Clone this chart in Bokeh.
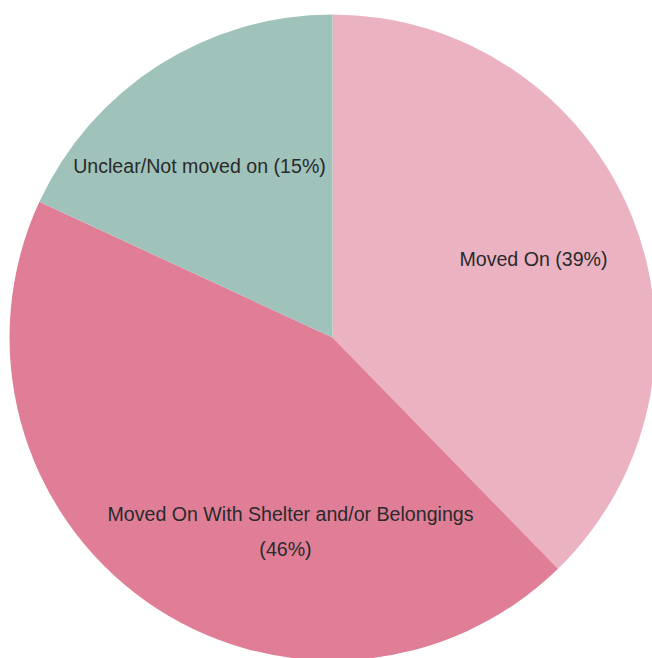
import math
from bokeh.plotting import figure
from bokeh.models import Range1d, Label, ColumnDataSource
from bokeh.embed import file_html
from bokeh.resources import INLINE

# data
categories = ["Moved On", "Moved On With Shelter and/or Belongings", "Unclear/Not moved on"]
shares = [37.7, 44.2, 18.1]
label_pct = ["39%", "46%", "15%"]
colors = ["#ebb2c2", "#e07e98", "#9fc2ba"]

W, H = 652, 658
cx, cy, r = 332, H - 337, 323

total = sum(shares)
starts, ends = [], []
a = math.pi / 2
for s in shares:
    starts.append(a)
    a -= 2 * math.pi * s / total
    ends.append(a)

src = ColumnDataSource(dict(x=[cx] * 3, y=[cy] * 3, start=starts, end=ends,
                            color=colors, cat=categories))

p = figure(width=W, height=H, output_backend="svg", toolbar_location=None,
           x_range=Range1d(0, W), y_range=Range1d(0, H), min_border=0)
p.axis.visible = False
p.grid.visible = False
p.outline_line_color = None
p.background_fill_color = "white"

p.wedge(x="x", y="y", radius=r, start_angle="start", end_angle="end",
        direction="clock", fill_color="color", line_color=None, source=src)

font = "Liberation Sans"
fs = "19.6px"
tc = "#2a2a2a"
texts = [
    (f"{categories[0]} ({label_pct[0]})", 533, 258),
    (f"{categories[2]} ({label_pct[2]})", 199, 165),
    (categories[1], 290, 513),
    (f"({label_pct[1]})", 285, 548),
]
for t, x, y in texts:
    p.add_layout(Label(x=x, y=H - y, text=t, text_align="center", text_baseline="middle",
                       text_font=font, text_font_size=fs, text_color=tc))

open("out.html", "w").write(file_html(p, INLINE))
